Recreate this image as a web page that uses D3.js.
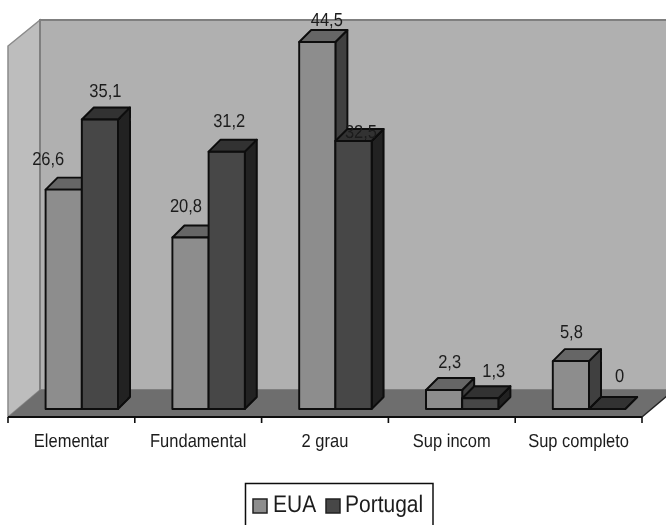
<!DOCTYPE html>
<html><head><meta charset="utf-8">
<script src="https://cdn.jsdelivr.net/npm/d3@7"></script>
<style>html,body{margin:0;padding:0;background:#fff}svg{display:block}text{font-family:"Liberation Sans",Arial,sans-serif;fill:#1c1c1c;text-rendering:geometricPrecision}</style>
</head><body><svg id="c" width="666" height="525"></svg>
<script>
const categories = ["Elementar","Fundamental","2 grau","Sup incom","Sup completo"];
const seriesNames = ["EUA","Portugal"];
const eua = [26.6,20.8,44.5,2.3,5.8];
const portugal = [35.1,31.2,32.5,1.3,0];
const valueLabelsEua = ["26,6","20,8","44,5","2,3","5,8"];
const valueLabelsPortugal = ["35,1","31,2","32,5","1,3","0"];

// layout only
const labelShift = {
  EUA: [[-15.5,-25],[-4.5,-25],[9.5,-16],[5.5,-22],[0.5,-23]],
  Portugal: [[5.5,-23],[2.5,-25],[7.5,-3],[13.5,-21],[12.5,-27]]
};
const palette = {
  EUA: {front:"#8d8d8d", top:"#666", side:"#414141"},
  Portugal: {front:"#474747", top:"#333", side:"#222"}
};
const depth = 12, wallDx = 32, wallDy = 27, stretch = 1.14;
const axisY = 417, floorBackY = 390, wallTop = 20;

const svg = d3.select("#c");
const defs = svg.append("defs");
defs.append("filter").attr("id","soft").attr("filterUnits","userSpaceOnUse")
  .attr("x",0).attr("y",0).attr("width",666).attr("height",525)
  .append("feGaussianBlur").attr("stdDeviation",0.6);
const g = svg.append("g").attr("filter","url(#soft)");

const x0 = d3.scaleBand().domain(categories).range([8,642]);
const x1 = d3.scaleBand().domain(seriesNames).range([37.6,110]);
const y = d3.scaleLinear().domain([0,44.5]).range([409,42]);
const poly = d3.line();
const left = x0.range()[0], right = x0.range()[1];
const stretched = (sel,px,py)=>sel.attr("transform",`translate(${px},${py}) scale(1,${stretch})`);

// walls & floor
g.append("path").attr("d",poly([[left,46],[left+wallDx,wallTop],[left+wallDx,floorBackY],[left,axisY]])+"Z")
  .attr("fill","#bdbdbd").attr("stroke","#8a8a8a").attr("stroke-width",1.5);
g.append("path").attr("d",poly([[left+wallDx,wallTop],[700,wallTop],[700,floorBackY],[left+wallDx,floorBackY]])+"Z")
  .attr("fill","#b0b0b0").attr("stroke","#7f7f7f").attr("stroke-width",2);
g.append("path").attr("d",poly([[left,axisY],[left+wallDx,floorBackY],[right+wallDx,floorBackY],[right,axisY]])+"Z")
  .attr("fill","#6e6e6e");

// bars
const rows = categories.map((c,i)=>({c,i,vals:[["EUA",eua[i],valueLabelsEua[i]],["Portugal",portugal[i],valueLabelsPortugal[i]]]}));
rows.forEach(r=>{
  r.vals.forEach(([s,v])=>{
    const a = x0(r.c)+x1(s), b = a+x1.bandwidth(), t = y(v), z = y(0), p = palette[s];
    const bar = g.append("g").attr("stroke","#0a0a0a").attr("stroke-width",1.9).attr("stroke-linejoin","round");
    bar.append("path").attr("fill",p.side).attr("d",poly([[b,z],[b+depth,z-depth],[b+depth,t-depth],[b,t]])+"Z");
    bar.append("path").attr("fill",p.top).attr("d",poly([[a,t],[a+depth,t-depth],[b+depth,t-depth],[b,t]])+"Z");
    if(v>0) bar.append("path").attr("fill",p.front).attr("d",poly([[a,z],[a,t],[b,t],[b,z]])+"Z");
  });
});

// axis line, ticks and category labels
g.append("line").attr("x1",left).attr("x2",right).attr("y1",axisY).attr("y2",axisY).attr("stroke","#111").attr("stroke-width",2);
g.append("line").attr("x1",right).attr("x2",right+wallDx).attr("y1",axisY).attr("y2",axisY-wallDy).attr("stroke","#222").attr("stroke-width",1.5);
const tickAt = categories.map(c=>x0(c)).concat(right);
g.selectAll(".tk").data(tickAt).join("line").attr("x1",d=>d).attr("x2",d=>d).attr("y1",axisY).attr("y2",axisY+6).attr("stroke","#111").attr("stroke-width",1.6);
const axisG = g.append("g").attr("transform",`translate(0,${axisY})`)
  .call(d3.axisBottom(x0).tickSize(0));
axisG.select(".domain").remove();
axisG.selectAll("text").attr("font-size",16.5).attr("font-family",null).attr("fill","#1c1c1c")
  .attr("dy",0).attr("y",0).attr("transform",`translate(0,30) scale(1,${stretch})`);

// value labels
rows.forEach(r=>r.vals.forEach(([s,v,l])=>{
  const [dx,dy] = labelShift[s][r.i];
  g.append("text").attr("text-anchor","middle").attr("font-size",16.5).text(l)
   .call(stretched,x0(r.c)+x1(s)+x1.bandwidth()/2+dx,y(v)+dy);
}));

// legend
g.append("rect").attr("x",245.5).attr("y",483.5).attr("width",187.5).attr("height",60).attr("fill","#fff").attr("stroke","#111").attr("stroke-width",1.5);
const legendItems = [{n:"EUA",sx:253,tx:273},{n:"Portugal",sx:326,tx:345}];
legendItems.forEach(d=>{
  g.append("rect").attr("x",d.sx).attr("y",499).attr("width",14).attr("height",14)
   .attr("fill",palette[d.n].front).attr("stroke","#222").attr("stroke-width",1.5);
  g.append("text").attr("font-size",21).text(d.n).call(stretched,d.tx,512);
});
</script></body></html>
